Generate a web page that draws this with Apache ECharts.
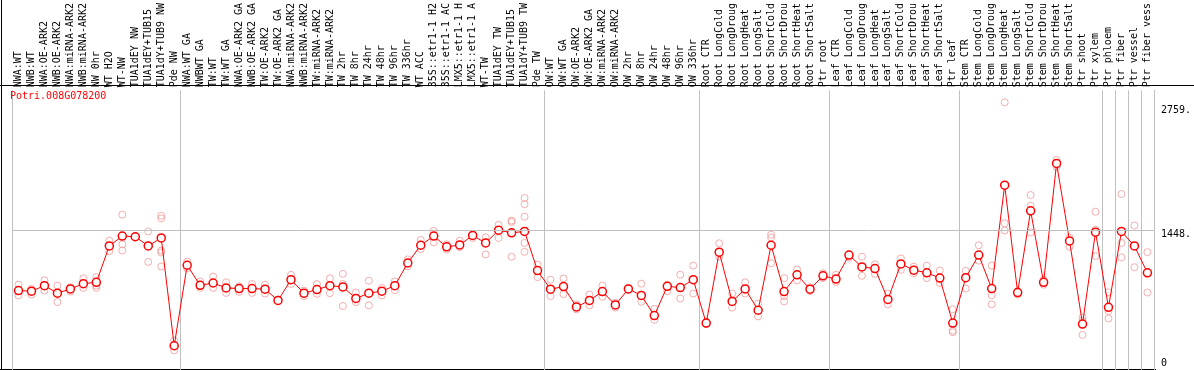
<!DOCTYPE html>
<html>
<head>
<meta charset="utf-8">
<title>Potri.008G078200</title>
<script src="https://cdn.jsdelivr.net/npm/echarts@6.0.0/dist/echarts.min.js"></script>
<style>
    html, body { margin: 0; padding: 0; background: #fff; }
    #chart { width: 1194px; height: 370px; }
</style>
</head>
<body>
<div id="chart"></div>
<script>
var geneName = 'Potri.008G078200';

var categories = [
    'NWA:WT', 'NWB:WT', 'NWA:OE-ARK2', 'NWB:OE-ARK2', 'NWA:miRNA-ARK2', 'NWB:miRNA-ARK2',
    'NW 0hr', 'WT H2O', 'WT-NW', 'TUA1dEY NW', 'TUA1dEY+TUB15 NW', 'TUA1dY+TUB9 NW', 'Pde NW',
    'NWA:WT GA', 'NWBWT GA', 'TW:WT', 'TW:WT GA', 'NWA:OE-ARK2 GA', 'NWB:OE-ARK2 GA',
    'TW:OE-ARK2', 'TW:OE-ARK2 GA', 'NWA:miRNA-ARK2 GA', 'NWB:miRNA-ARK2 GA', 'TW:miRNA-ARK2',
    'TW:miRNA-ARK2 GA', 'TW 2hr', 'TW 8hr', 'TW 24hr', 'TW 48hr', 'TW 96hr', 'TW 336hr',
    'WT ACC', '35S::etr1-1 H2O', '35S::etr1-1 ACC', 'LMX5::etr1-1 H2O', 'LMX5::etr1-1 ACC',
    'WT-TW', 'TUA1dEY TW', 'TUA1dEY+TUB15 TW', 'TUA1dY+TUB9 TW', 'Pde TW',
    'OW:WT', 'OW:WT GA', 'OW:OE-ARK2', 'OW:OE-ARK2 GA', 'OW:miRNA-ARK2', 'OW:miRNA-ARK2 GA',
    'OW 2hr', 'OW 8hr', 'OW 24hr', 'OW 48hr', 'OW 96hr', 'OW 336hr',
    'Root CTR', 'Root LongCold', 'Root LongDrought', 'Root LongHeat', 'Root LongSalt',
    'Root ShortCold', 'Root ShortDrought', 'Root ShortHeat', 'Root ShortSalt', 'Ptr root',
    'Leaf CTR', 'Leaf LongCold', 'Leaf LongDrought', 'Leaf LongHeat', 'Leaf LongSalt',
    'Leaf ShortCold', 'Leaf ShortDrought', 'Leaf ShortHeat', 'Leaf ShortSalt', 'Ptr leaf',
    'Stem CTR', 'Stem LongCold', 'Stem LongDrought', 'Stem LongHeat', 'Stem LongSalt',
    'Stem ShortCold', 'Stem ShortDrought', 'Stem ShortHeat', 'Stem ShortSalt', 'Ptr shoot',
    'Ptr xylem', 'Ptr phloem', 'Ptr fiber', 'Ptr vessel', 'Ptr fiber vessel'
];

// first category of each sample group (grey separators)
var groupStarts = [0, 13, 41, 53, 63, 73, 84, 85, 86, 87];

var means = [
    811, 804, 863, 783, 828, 884, 898, 1284, 1388, 1381, 1284, 1368, 226,
    1079, 866, 891, 839, 832, 832, 825, 706, 926, 783, 821, 863, 849, 727, 783, 804, 863,
    1103, 1291, 1388, 1274, 1294, 1395, 1315, 1451, 1423, 1437, 1023,
    825, 853, 637, 706, 800, 658, 828, 759, 546, 856, 842, 926,
    466, 1218, 696, 828, 602, 1291, 800, 978, 825, 967,
    933, 1187, 1061, 1044, 717, 1093, 1027, 999, 943, 466,
    947, 1187, 832, 1928, 790, 1656, 898, 2158, 1336, 456,
    1430, 633, 1437, 1284, 999
];

var replicates = [
    [873, 759], [828, 769], [919, 811], [863, 689], [846, 800], [940, 839], [953, 839, 863],
    [1340, 1228], [1615, 1301, 1235], [1385, 1375], [1437, 1114, 1290],
    [1604, 1576, 1235, 1214, 1065], [282, 177],
    [1117, 1047], [908, 839], [960, 839], [898, 786], [856, 797], [880, 786], [873, 779],
    [715, 699], [978, 880], [811, 752], [880, 776], [940, 783], [988, 880, 647], [790, 689],
    [915, 654], [839, 759], [908, 814], [1141, 1068], [1347, 1249], [1444, 1322], [1301, 1246],
    [1340, 1270], [1406, 1368], [1375, 1194], [1507, 1368], [1552, 1538, 1169],
    [1792, 1726, 1594, 1315, 1221], [1086, 953],
    [926, 752], [940, 773], [665, 612], [769, 654], [863, 745], [682, 630], [839, 818],
    [884, 692], [616, 501], [873, 804], [978, 727], [1075, 779],
    [480, 456], [1312, 1169], [779, 630], [898, 779], [672, 536], [1402, 1371, 1100],
    [943, 752, 696], [1034, 919], [846, 804], [995, 943],
    [978, 901], [1194, 1159], [1169, 967], [1089, 988], [779, 665], [1152, 1030], [1065, 995],
    [1075, 943], [1023, 891], [612, 386, 369],
    [1020, 832], [1291, 1128], [1075, 762, 665], [2805, 1524, 1448], [804, 769],
    [1823, 1709, 1427], [926, 873], [2196, 2119], [1371, 1274], [525, 491, 341],
    [1646, 1455, 1176], [793, 595, 515], [1834, 1315, 1162], [1500, 1058], [1218, 790]
];

var yTicks = [0, 1448, 2759];

(function () {
    var chart = echarts.init(document.getElementById('chart'));
    var mono = 'DejaVu Sans Mono';
    var grey = '#c0c0c0';

    var repPoints = [];
    replicates.forEach(function (reps, i) {
        reps.forEach(function (v) {
            repPoints.push([i, v]);
        });
    });

    var isGroupStart = function (index) {
        return groupStarts.indexOf(index) >= 0;
    };

    var option = {
        animation: false,
        backgroundColor: '#fff',
        title: {
            text: geneName,
            left: 10,
            top: 91,
            padding: 0,
            textStyle: {
                color: '#ff0000',
                fontFamily: mono,
                fontSize: 10,
                fontWeight: 'normal'
            }
        },
        grid: {
            left: 12,
            right: 38,
            top: 86,
            bottom: 0
        },
        xAxis: {
            type: 'category',
            position: 'top',
            data: categories,
            boundaryGap: true,
            axisLine: { show: false },
            axisTick: {
                show: true,
                length: 86,
                interval: isGroupStart,
                lineStyle: { color: grey, width: 1 }
            },
            splitLine: {
                show: true,
                interval: isGroupStart,
                lineStyle: { color: grey, width: 1 }
            },
            axisLabel: {
                interval: 0,
                rotate: 90,
                margin: 3,
                color: '#000',
                fontFamily: mono,
                fontSize: 10,
                width: 86,
                overflow: 'truncate',
                ellipsis: ''
            }
        },
        yAxis: {
            type: 'value',
            position: 'right',
            min: -31,
            max: 2933,
            axisLine: { show: true, lineStyle: { color: grey, width: 1 } },
            axisTick: { show: false },
            splitLine: { show: false },
            axisLabel: {
                customValues: yTicks,
                margin: 7,
                color: '#000',
                fontFamily: mono,
                fontSize: 10,
                formatter: function (v) {
                    if (v === 0) {
                        return '{b|0}';
                    }
                    return '{t|' + v + '.}';
                },
                rich: {
                    t: { padding: [8, 0, 0, 0], fontFamily: mono, fontSize: 10, color: '#000' },
                    b: { padding: [0, 0, 8, 0], fontFamily: mono, fontSize: 10, color: '#000' }
                }
            }
        },
        graphic: [
            { type: 'line', silent: true, shape: { x1: 1.5, y1: 0, x2: 1.5, y2: 370 }, style: { stroke: '#000', lineWidth: 1 } },
            { type: 'line', silent: true, shape: { x1: 0, y1: 85.5, x2: 1194, y2: 85.5 }, style: { stroke: '#000', lineWidth: 1 } },
            { type: 'line', silent: true, shape: { x1: 0, y1: 369.5, x2: 1156, y2: 369.5 }, style: { stroke: '#000', lineWidth: 1 } }
        ],
        series: [
            {
                name: 'replicates',
                type: 'scatter',
                data: repPoints,
                symbol: 'circle',
                symbolSize: 7,
                itemStyle: {
                    color: 'rgba(255,255,255,0)',
                    borderColor: '#f09a9a',
                    borderWidth: 1
                },
                z: 2
            },
            {
                name: 'mean',
                type: 'line',
                data: means,
                symbol: 'circle',
                symbolSize: 8,
                lineStyle: { color: '#ff0000', width: 1 },
                itemStyle: {
                    color: '#fff',
                    borderColor: '#ff0000',
                    borderWidth: 1.5
                },
                markLine: {
                    silent: true,
                    symbol: 'none',
                    label: { show: false },
                    lineStyle: { color: grey, type: 'solid', width: 1 },
                    data: [{ yAxis: 1448 }]
                },
                z: 3
            }
        ]
    };

    chart.setOption(option);
})();
</script>
</body>
</html>
